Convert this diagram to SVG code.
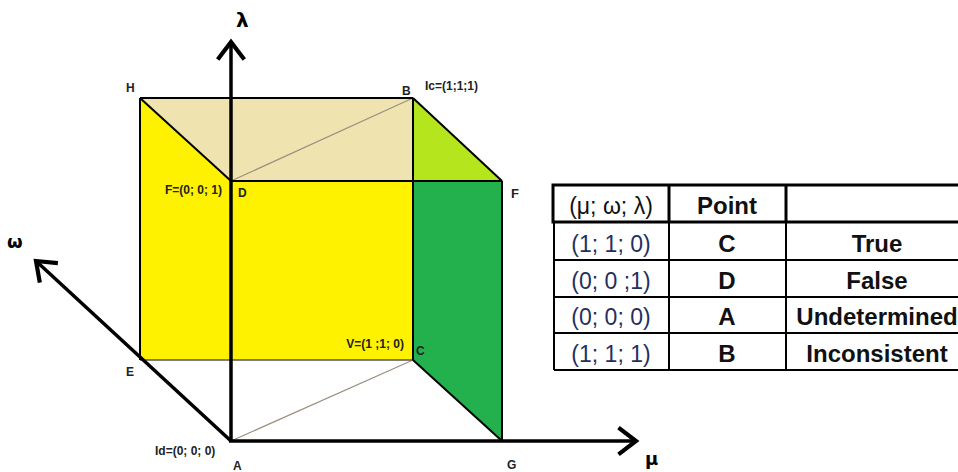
<svg xmlns="http://www.w3.org/2000/svg" width="958" height="472" viewBox="0 0 958 472">
<defs>
<style>
.lbl{font-family:"Liberation Sans",Arial,sans-serif;font-weight:bold;font-size:12px;fill:#222}
.ax{font-family:"DejaVu Sans","Liberation Sans",sans-serif;font-weight:bold;font-size:20px;fill:#000}
.edge{stroke:#000;stroke-width:2;fill:none}
.thin{stroke:#9a9080;stroke-width:1.2;fill:none}
.axis{stroke:#000;stroke-width:3.5;fill:none}
.tc{font-family:"Liberation Sans",Arial,sans-serif;font-size:23px;fill:#1f2f5f;text-anchor:middle}
.tb{font-family:"Liberation Sans",Arial,sans-serif;font-size:24px;font-weight:bold;fill:#111;text-anchor:middle}
</style>
<marker id="arr" markerWidth="10" markerHeight="10" refX="7" refY="5" orient="auto" markerUnits="strokeWidth">
<polyline points="2,1.2 7,5 2,8.8" fill="none" stroke="#000" stroke-width="1.2"/>
</marker>
</defs>
<rect width="958" height="472" fill="#fff"/>
<g id="faces">
<polygon points="140,98 231,181 413,181 413,360 140,360" fill="#fff200"/>
<polygon points="140,98 413,98 413,181 231,181" fill="#efe4b0"/>
<polygon points="413,98 502,181 413,181" fill="#b5e61d"/>
<polygon points="413,181 502,181 502,441 413,360" fill="#22b14c"/>
</g>
<g id="connectors">
<line class="thin" x1="231" y1="181" x2="413" y2="98"/>
<line class="thin" x1="231" y1="441" x2="413" y2="360"/>
<line x1="140" y1="360" x2="413" y2="360" stroke="#555" stroke-width="1.5"/>
<line class="edge" x1="140" y1="98" x2="140" y2="360"/>
<line class="edge" x1="140" y1="98" x2="413" y2="98"/>
<line class="edge" x1="140" y1="98" x2="231" y2="181"/>
<line class="edge" x1="231" y1="181" x2="502" y2="181"/>
<line class="edge" x1="413" y1="98" x2="502" y2="181"/>
<line class="edge" x1="413" y1="98" x2="413" y2="360"/>
<line class="edge" x1="502" y1="181" x2="502" y2="441"/>
<line class="edge" x1="413" y1="360" x2="502" y2="441"/>
<line class="axis" x1="231" y1="441" x2="231" y2="42" marker-end="url(#arr)"/>
<line class="axis" x1="231" y1="441" x2="36" y2="261" marker-end="url(#arr)"/>
<line class="axis" x1="229" y1="441" x2="636" y2="441" marker-end="url(#arr)"/>
</g>
<g id="labels">
<text class="ax" x="236" y="27">λ</text>
<text class="ax" x="7" y="248" style="font-size:18px">ω</text>
<text class="ax" x="645" y="465" style="font-size:18px">μ</text>
<text class="lbl" x="126" y="92">H</text>
<text class="lbl" x="402" y="95">B</text>
<text class="lbl" x="425" y="90">Ic=(1;1;1)</text>
<text class="lbl" x="222" y="194" text-anchor="end">F=(0; 0; 1)</text>
<text class="lbl" x="238" y="197">D</text>
<text class="lbl" x="511" y="198" style="font-size:13px">F</text>
<text class="lbl" x="404" y="348" text-anchor="end">V=(1 ;1; 0)</text>
<text class="lbl" x="416" y="355">C</text>
<text class="lbl" x="126" y="376">E</text>
<text class="lbl" x="155" y="455">Id=(0; 0; 0)</text>
<text class="lbl" x="233" y="470">A</text>
<text class="lbl" x="507" y="469">G</text>
</g>
<g id="table">
<rect x="553" y="185" width="420" height="37" fill="none" stroke="#000" stroke-width="3"/>
<line x1="669" y1="185" x2="669" y2="222" stroke="#000" stroke-width="3"/>
<line x1="786" y1="185" x2="786" y2="222" stroke="#000" stroke-width="3"/>
<g stroke="#000" stroke-width="2" fill="none">
<line x1="554" y1="222" x2="554" y2="370"/>
<line x1="669" y1="222" x2="669" y2="370"/>
<line x1="786" y1="222" x2="786" y2="370"/>
<line x1="554" y1="260" x2="958" y2="260"/>
<line x1="554" y1="297" x2="958" y2="297"/>
<line x1="554" y1="333" x2="958" y2="333"/>
<line x1="554" y1="370" x2="958" y2="370"/>
</g>
<text class="tc" x="611" y="214" style="fill:#111">(μ; ω; λ)</text>
<text class="tb" x="727" y="214">Point</text>
<text class="tc" x="611" y="252">(1; 1; 0)</text>
<text class="tc" x="611" y="289">(0; 0 ;1)</text>
<text class="tc" x="611" y="325">(0; 0; 0)</text>
<text class="tc" x="611" y="362">(1; 1; 1)</text>
<text class="tb" x="727" y="252">C</text>
<text class="tb" x="727" y="289">D</text>
<text class="tb" x="727" y="325">A</text>
<text class="tb" x="727" y="362">B</text>
<text class="tb" x="877" y="252">True</text>
<text class="tb" x="877" y="289">False</text>
<text class="tb" x="877" y="325">Undetermined</text>
<text class="tb" x="877" y="362">Inconsistent</text>
</g>
</svg>
